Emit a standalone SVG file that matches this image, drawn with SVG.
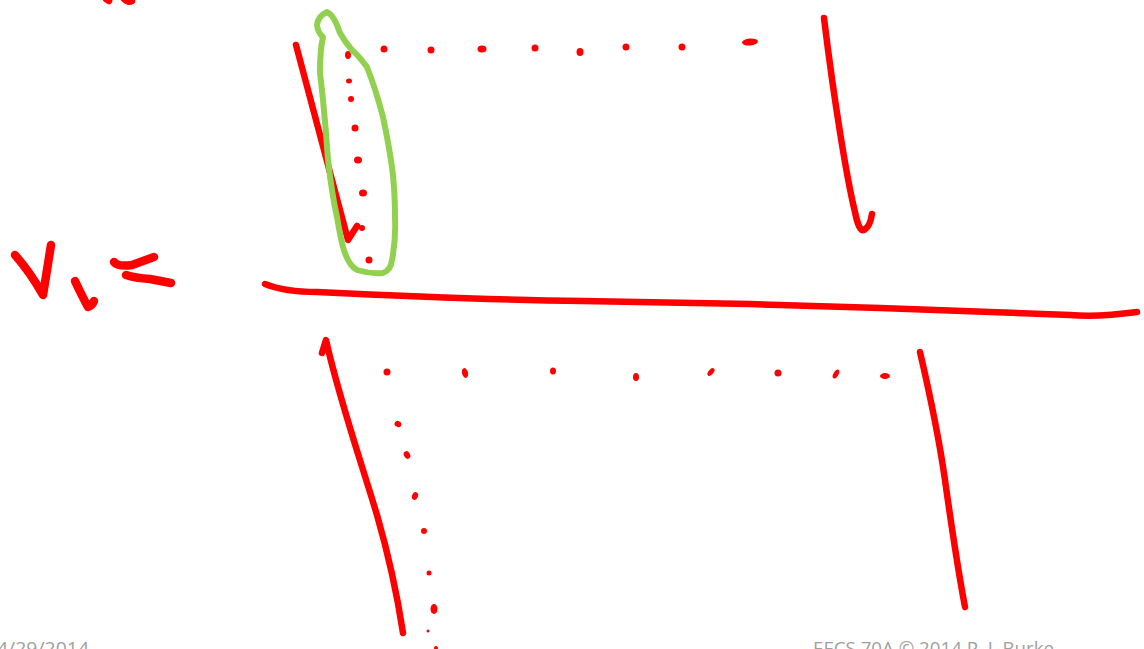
<svg xmlns="http://www.w3.org/2000/svg" width="1144" height="649" viewBox="0 0 1144 649">
<style>
.ink{fill:none;stroke:#ff0000;stroke-width:6.5;stroke-linecap:round;stroke-linejoin:round}
.bold{stroke-width:8.5}
.dot{fill:#ff0000}
.loop{fill:none;stroke:#92d050;stroke-width:6;stroke-linecap:round;stroke-linejoin:round}
.foot{font-family:"Open Sans","Liberation Sans",sans-serif;font-size:18px;fill:#a0a0a0}
</style>
<rect width="1144" height="649" fill="#ffffff"/>
<g id="top-marks">
<path class="ink" d="M106,-1 L109,1" stroke-width="4"/>
<path class="ink" d="M124,-1 Q128,3 132,1" stroke-width="4"/>
</g>
<g id="label-v1">
<path class="ink bold" d="M15,255 Q30,272 43,295 L51,245"/>
<path class="ink bold" d="M75,281 Q82,296 88,307 Q92,306 94,301"/>
<path class="ink bold" d="M114,262 Q118,267 132,265 L154,257"/>
<path class="ink bold" d="M126,275 Q135,278 150,279 L171,283"/>
</g>
<g id="main-line">
<path class="ink" d="M265,284 Q285,292 317,292 C400,296 500,300 583,301 C650,302 700,303 750,304 C850,307 1000,312 1070,315 C1095,317 1115,315 1137,312"/>
</g>
<g id="upper-plate">
<path class="ink" d="M296,45 L348,240 L357,226"/>
<path class="ink" d="M824,18 C834,100 847,180 855,212 Q859,232 864,230 Q870,227 872,214"/>
<g id="upper-dots-h">
<circle class="dot" cx="384" cy="49" r="3.5"/>
<circle class="dot" cx="431" cy="50" r="3.5"/>
<ellipse class="dot" cx="482" cy="49" rx="4.5" ry="3.5"/>
<circle class="dot" cx="535" cy="48" r="3.5"/>
<ellipse class="dot" cx="580" cy="52" rx="3.5" ry="4"/>
<circle class="dot" cx="626" cy="47" r="3.5"/>
<circle class="dot" cx="682" cy="47" r="3.5"/>
<ellipse class="dot" cx="750" cy="42" rx="8" ry="3.5" transform="rotate(-5 750 42)"/>
</g>
<g id="upper-dots-v">
<ellipse class="dot" cx="348" cy="55" rx="3" ry="4"/>
<ellipse class="dot" cx="349" cy="81" rx="3" ry="2.5"/>
<circle class="dot" cx="351" cy="99" r="3"/>
<circle class="dot" cx="355" cy="128" r="3.5"/>
<ellipse class="dot" cx="358" cy="160" rx="4" ry="3.5"/>
<ellipse class="dot" cx="363" cy="193" rx="4" ry="3.5"/>
<circle class="dot" cx="362" cy="228" r="3"/>
<ellipse class="dot" cx="369" cy="260" rx="3.5" ry="3.5"/>
</g>
</g>
<g id="green-loop">
<path class="loop" d="M327,12 Q318,16 317,25 Q318,33 323,37 Q320,50 320,73 Q322,90 323,100 Q326,130 328,160 Q332,195 337,217 Q340,235 343,247 Q348,265 357,270 Q370,274 383,273 Q391,270 392,260 Q396,240 395,217 Q395,190 392,167 Q388,140 383,117 Q376,90 367,67 Q358,55 352,50 Q345,42 340,33 Q334,15 327,12 Z"/>
</g>
<g id="lower-plate">
<path class="ink" d="M322,353 L326,340 C338,395 362,465 377,515 C390,560 398,600 403,633"/>
<path class="ink" d="M920,352 C930,395 940,445 945,480 C952,530 958,570 965,607"/>
<g id="lower-dots-h">
<circle class="dot" cx="387" cy="372" r="3.5"/>
<ellipse class="dot" cx="465" cy="373" rx="3" ry="5" transform="rotate(-15 465 373)"/>
<ellipse class="dot" cx="553" cy="371" rx="3" ry="3.5"/>
<ellipse class="dot" cx="636" cy="377" rx="3" ry="4"/>
<ellipse class="dot" cx="711" cy="372" rx="2.5" ry="4.5" transform="rotate(40 711 372)"/>
<ellipse class="dot" cx="778" cy="373" rx="3.5" ry="3.5"/>
<ellipse class="dot" cx="836" cy="374" rx="2.5" ry="5" transform="rotate(30 836 374)"/>
<ellipse class="dot" cx="885" cy="376" rx="5" ry="3"/>
</g>
<g id="lower-dots-v">
<ellipse class="dot" cx="398" cy="424" rx="3.5" ry="3" transform="rotate(30 398 424)"/>
<ellipse class="dot" cx="407" cy="455" rx="3" ry="4" transform="rotate(-30 407 455)"/>
<ellipse class="dot" cx="415" cy="496" rx="3" ry="4" transform="rotate(20 415 496)"/>
<circle class="dot" cx="424" cy="531" r="3"/>
<circle class="dot" cx="429" cy="573" r="2.5"/>
<ellipse class="dot" cx="434" cy="609" rx="3.5" ry="5"/>
<circle class="dot" cx="428" cy="631" r="1.5"/>
<circle class="dot" cx="436" cy="648" r="2"/>
</g>
</g>
<g id="footer">
<text class="foot" x="-3" y="655" textLength="92" lengthAdjust="spacingAndGlyphs">4/29/2014</text>
<text class="foot" x="813" y="655" textLength="241" lengthAdjust="spacingAndGlyphs">EECS 70A © 2014 P. J. Burke</text>
</g>
</svg>
